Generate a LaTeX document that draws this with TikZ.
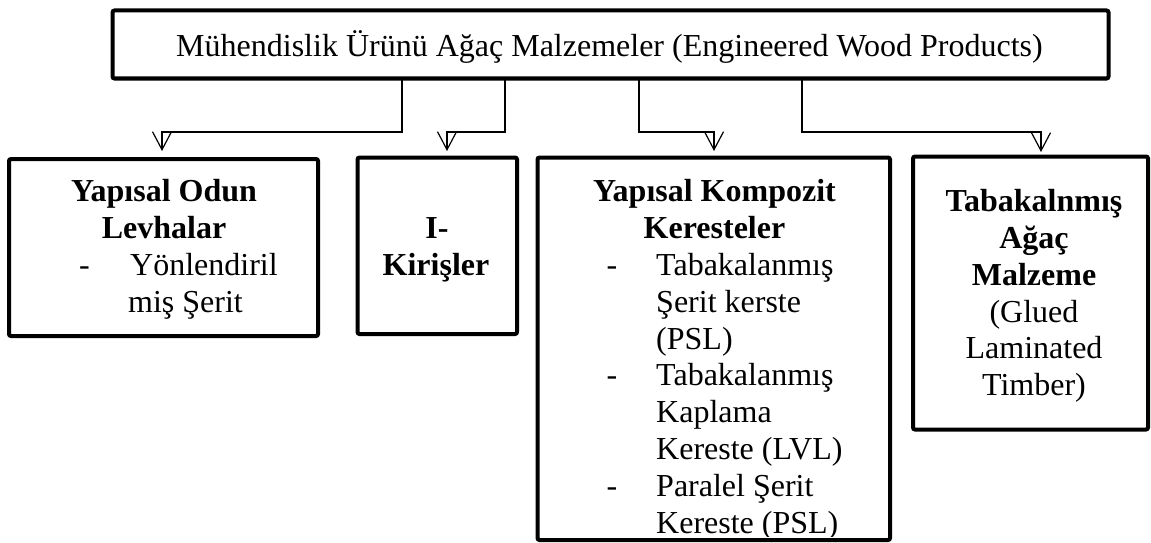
\documentclass[tikz,border=0pt]{standalone}
\usepackage{fontspec}
\setmainfont{Liberation Serif}
\usetikzlibrary{arrows.meta}
\begin{document}
\begin{tikzpicture}[x=1pt,y=-1pt,
  box/.style={draw, line width=4pt, rounded corners=2pt, inner sep=0pt, fill=white},
  conn/.style={line width=1.2pt, -{Straight Barb[length=18pt,width=19pt,line width=1.2pt]}},
  txt/.style={inner sep=0pt, font=\fontsize{32pt}{36.8pt}\selectfont},
  btxt/.style={inner sep=0pt, font=\fontsize{32pt}{36.8pt}\selectfont\bfseries},
]
\useasboundingbox (0,0) rectangle (1151,543);

% boxes
\node[box, minimum width=996pt, minimum height=68pt] (top) at (610.5,44.5) {};
\node[box, minimum width=309pt, minimum height=177pt] (b1) at (163.5,247.5) {};
\node[box, minimum width=159.5pt, minimum height=176.5pt] (b2) at (437.25,245.75) {};
\node[box, minimum width=352.5pt, minimum height=382.5pt] (b3) at (713.75,348.75) {};
\node[box, minimum width=235pt, minimum height=273pt] (b4) at (1030.5,293) {};

% connector coordinates
\coordinate (s1) at (402,80);
\coordinate (s2) at (505,80);
\coordinate (s3) at (639,80);
\coordinate (s4) at (802,80);
\coordinate (h1) at (162,132);
\coordinate (h2) at (447,132);
\coordinate (h3) at (714,132);
\coordinate (h4) at (1041,132);
\coordinate (a1) at (162,151);
\coordinate (a2) at (447,151);
\coordinate (a3) at (714,151);
\coordinate (a4) at (1041,152);

\draw[conn] (s1) |- (h1) -- (a1);
\draw[conn] (s2) |- (h2) -- (a2);
\draw[conn] (s3) |- (h3) -- (a3);
\draw[conn] (s4) |- (h4) -- (a4);

% top text
\node[txt, anchor=base] (tt) at (609.5,57) {Mühendislik Ürünü Ağaç Malzemeler (Engineered Wood Products)};

% box 1
\node[btxt, anchor=base] (t1a) at (164,201) {Yapısal Odun};
\node[btxt, anchor=base] (t1b) at (164,238) {Levhalar};
\node[txt, anchor=base west] (d1a) at (79,275) {-};
\node[txt, anchor=base west] (t1c) at (130,275) {Yönlendiril};
\node[txt, anchor=base west] (t1d) at (128,312) {miş Şerit};

% box 2
\node[btxt, anchor=base] (t2a) at (437,238) {I-};
\node[btxt, anchor=base] (t2b) at (436,275) {Kirişler};

% box 3
\begin{scope}
\clip (540,160) rectangle (888,536);
\node[btxt, anchor=base] (t3a) at (714.5,201) {Yapısal Kompozit};
\node[btxt, anchor=base] (t3b) at (714.5,238) {Keresteler};
\node[txt, anchor=base west] (d3a) at (606.5,275) {-};
\node[txt, anchor=base west] (t3c) at (656,275) {Tabakalanmış};
\node[txt, anchor=base west] (t3d) at (656,312) {Şerit kerste};
\node[txt, anchor=base west] (t3e) at (656,349) {(PSL)};
\node[txt, anchor=base west] (d3b) at (606.5,385) {-};
\node[txt, anchor=base west] (t3f) at (656,385) {Tabakalanmış};
\node[txt, anchor=base west] (t3g) at (656,422) {Kaplama};
\node[txt, anchor=base west] (t3h) at (656,459) {Kereste (LVL)};
\node[txt, anchor=base west] (d3c) at (606.5,496) {-};
\node[txt, anchor=base west] (t3i) at (656,496) {Paralel Şerit};
\node[txt, anchor=base west] (t3j) at (656,533) {Kereste (PSL)};
\end{scope}

% box 4
\node[btxt, anchor=base] (t4a) at (1034,211) {Tabakalnmış};
\node[btxt, anchor=base] (t4b) at (1034,248) {Ağaç};
\node[btxt, anchor=base] (t4c) at (1034,285) {Malzeme};
\node[txt, anchor=base] (t4d) at (1034,322) {(Glued};
\node[txt, anchor=base] (t4e) at (1034,358) {Laminated};
\node[txt, anchor=base] (t4f) at (1034,395) {Timber)};
\end{tikzpicture}
\end{document}
